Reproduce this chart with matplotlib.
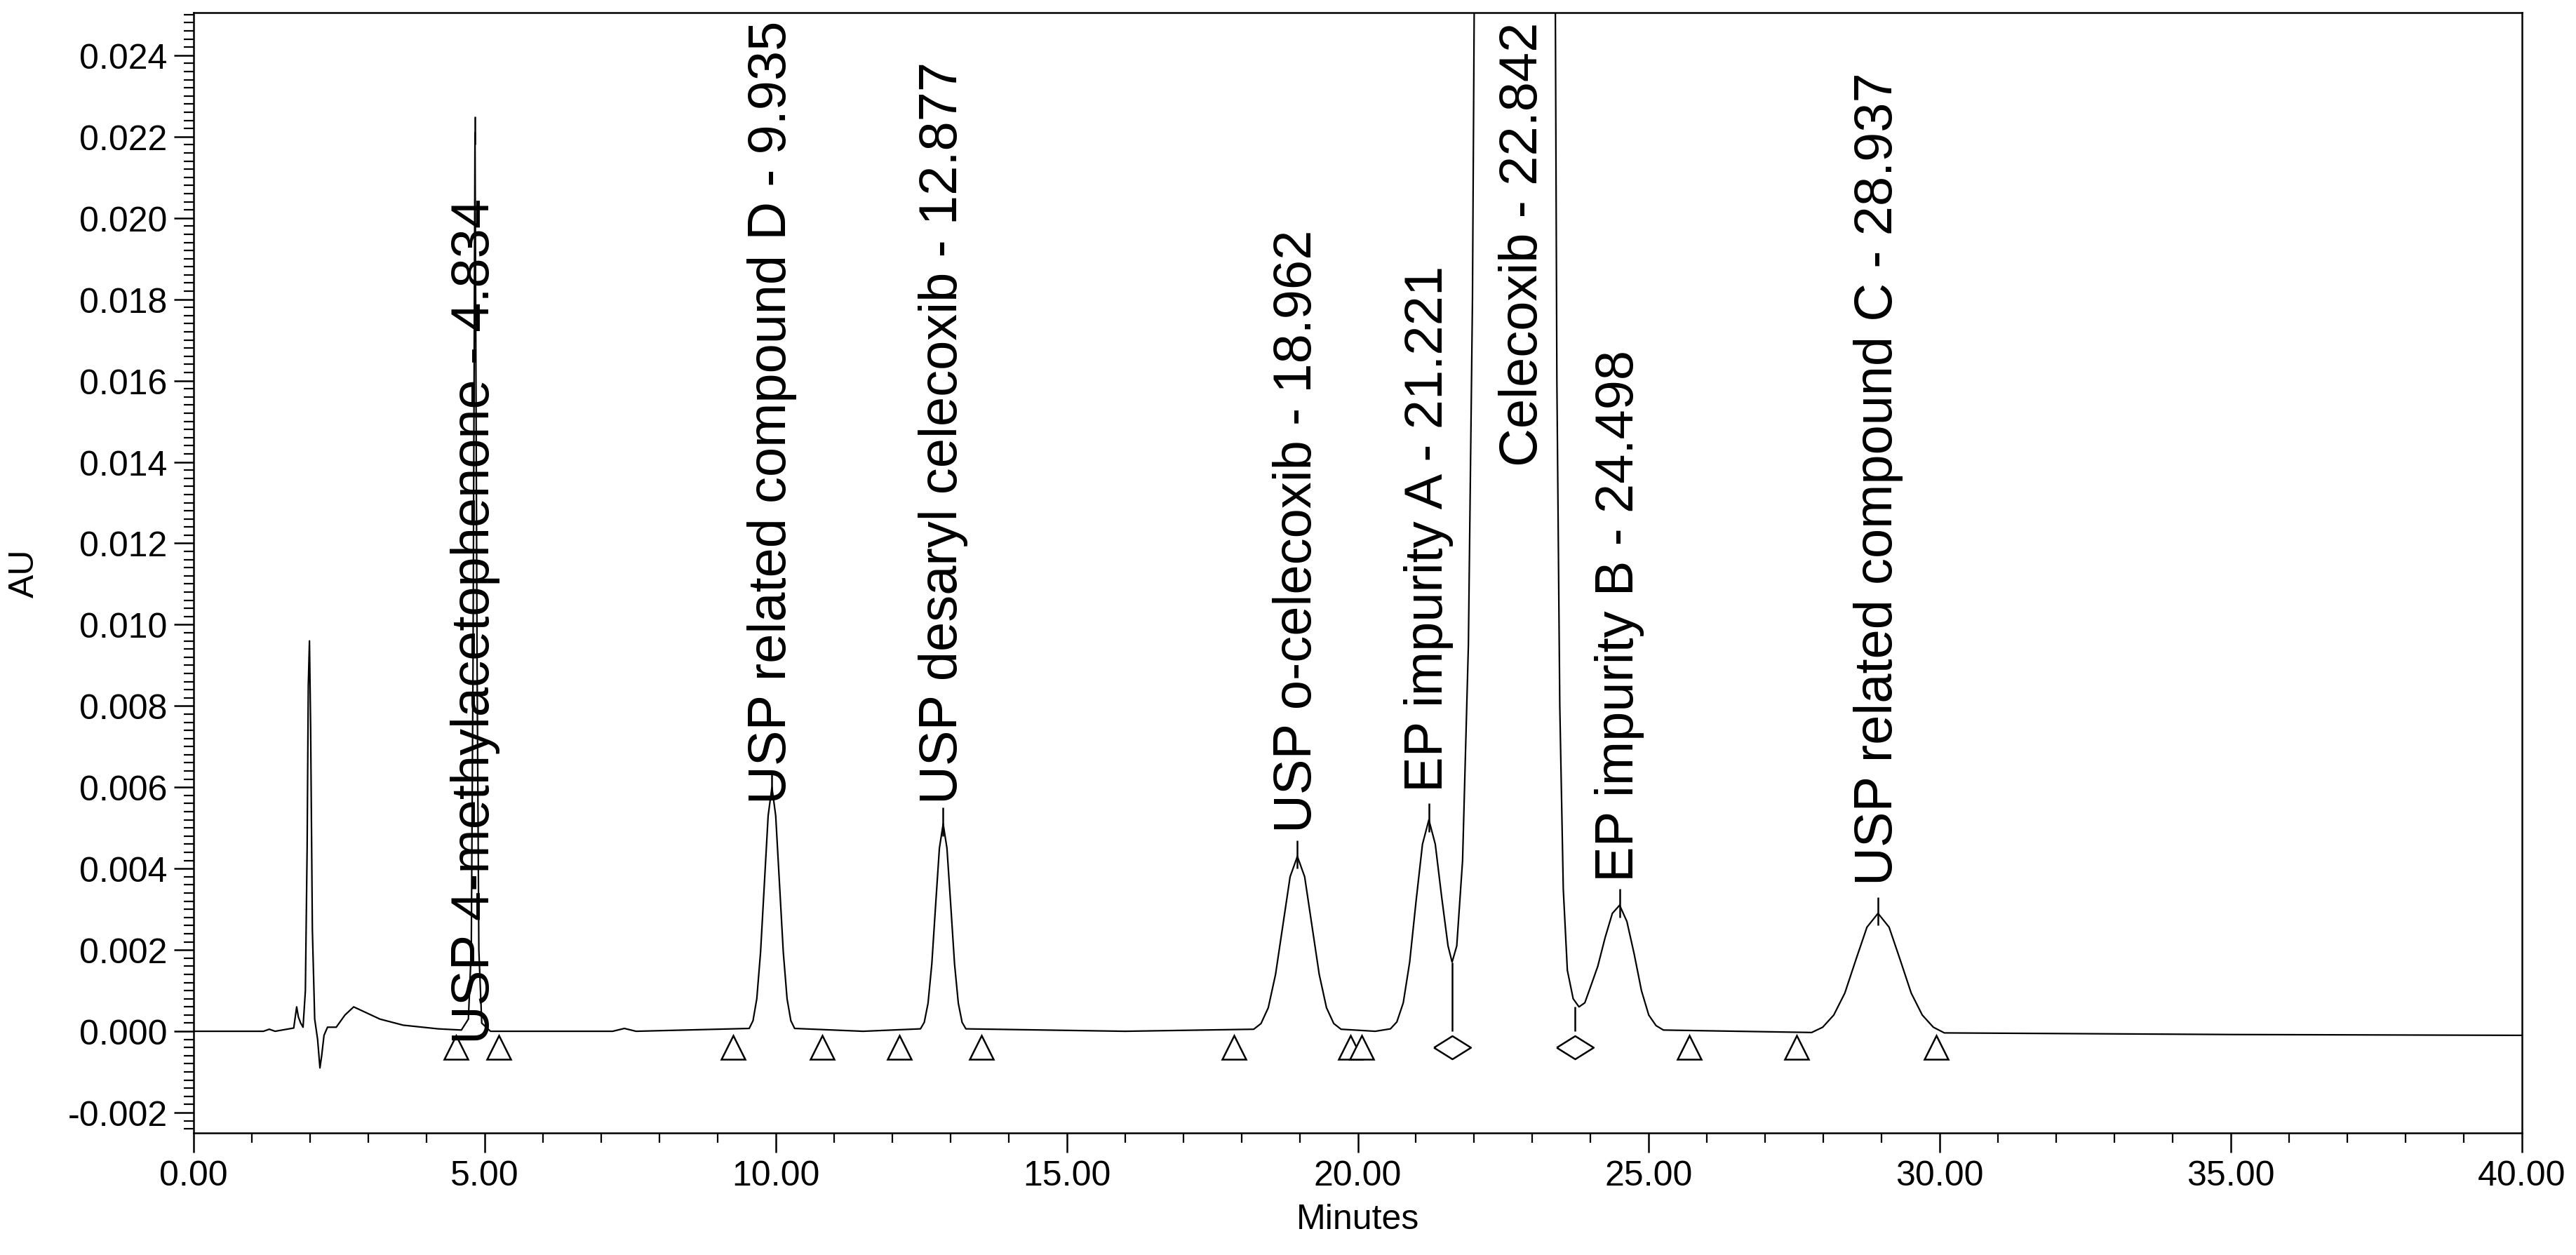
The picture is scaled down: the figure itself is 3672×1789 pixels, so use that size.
import matplotlib
matplotlib.use("Agg")
import matplotlib.pyplot as plt
from matplotlib.ticker import MultipleLocator, FormatStrFormatter

# ---- data: chromatogram trace ----
trace_t = [0.0, 1.2, 1.3, 1.4, 1.72, 1.77, 1.8, 1.84, 1.88, 1.92, 1.95, 1.97, 1.99, 2.01, 2.04, 2.08,
           2.13, 2.17, 2.2, 2.24, 2.3, 2.45, 2.6, 2.75, 2.9, 3.2, 3.6, 4.2, 4.6, 4.72, 4.77, 4.80, 4.834,
           4.87, 4.90, 4.95, 5.1, 7.2, 7.4, 7.6,
           9.545, 9.61, 9.675, 9.74, 9.805, 9.87, 9.935, 10.0, 10.065, 10.13, 10.195, 10.26, 10.325, 11.5,
           12.487, 12.552, 12.617, 12.682, 12.747, 12.812, 12.877, 12.942, 13.007, 13.072, 13.137, 13.202, 13.267, 16.0,
           18.212, 18.337, 18.462, 18.587, 18.712, 18.837, 18.962, 19.087, 19.212, 19.337, 19.462, 19.587, 19.712,
           20.3, 20.561, 20.671, 20.781, 20.891, 21.001, 21.111, 21.221, 21.331, 21.441, 21.55, 21.62, 21.7, 21.8,
           21.9, 21.97, 22.02, 22.1, 22.84, 23.3, 23.38, 23.42, 23.47, 23.53, 23.6, 23.7, 23.8,
           23.9, 24.0, 24.123, 24.248, 24.373, 24.498, 24.623, 24.748, 24.873, 24.998, 25.123, 25.25,
           27.797, 27.987, 28.177, 28.367, 28.557, 28.747, 28.937, 29.127, 29.317, 29.507, 29.697, 29.887, 30.077,
           35.0, 40.0]
trace_au = [0.0, 0.0, 0.00005, 0.0, 0.00008, 0.0006, 0.00035, 0.0002, 0.0001, 0.001, 0.0045, 0.0085, 0.0096, 0.0075, 0.0025, 0.0003,
            -0.0002, -0.0009, -0.0006, -0.0001, 0.0001, 0.0001, 0.0004, 0.0006, 0.0005, 0.0003, 0.00015, 0.00006, 0.00003, 0.0003, 0.002, 0.009, 0.0221,
            0.009, 0.002, 0.0002, 0.0, 0.0, 0.00007, 0.0,
            0.00007, 0.00026, 0.0008, 0.00195, 0.00364, 0.0053, 0.0060, 0.0053, 0.00364, 0.00195, 0.0008, 0.00026, 0.00007, 0.0,
            0.00006, 0.00022, 0.00069, 0.00166, 0.0031, 0.0045, 0.0051, 0.0045, 0.0031, 0.00166, 0.00069, 0.00022, 0.00006, 0.0,
            0.00005, 0.00019, 0.00058, 0.0014, 0.0026, 0.0038, 0.0043, 0.0038, 0.0026, 0.0014, 0.00058, 0.00019, 0.00005,
            0.0, 0.00006, 0.00023, 0.0007, 0.0017, 0.0032, 0.0046, 0.0052, 0.0046, 0.0033, 0.0021, 0.0017, 0.0021, 0.0042,
            0.0095, 0.018, 0.03, 0.06, 0.30, 0.06, 0.03, 0.016, 0.008, 0.0035, 0.0015, 0.0008, 0.0006,
            0.0007, 0.0011, 0.0016, 0.0023, 0.0029, 0.0031, 0.0027, 0.0019, 0.0010, 0.0004, 0.00014, 0.00003,
            -0.00003, 0.0001, 0.0004, 0.00094, 0.00176, 0.00256, 0.0029, 0.00256, 0.00176, 0.00094, 0.0004, 0.0001, -0.00004,
            -0.00008, -0.0001]

peak_names = ["USP 4-methylacetophenone - 4.834", "USP related compound D - 9.935",
              "USP desaryl celecoxib - 12.877", "USP o-celecoxib - 18.962",
              "EP impurity A - 21.221", "Celecoxib - 22.842", "EP impurity B - 24.498",
              "USP related compound C - 28.937"]
peak_rt = [4.834, 9.935, 12.877, 18.962, 21.221, 22.842, 24.498, 28.937]
peak_top = [0.0221, 0.0060, 0.0051, 0.0043, 0.0052, 0.0250, 0.0031, 0.0029]
label_base = [-0.0003, 0.0056, 0.0056, 0.0049, 0.0059, 0.0139, 0.0037, 0.0036]

tri_t = [4.51, 5.24, 9.27, 10.80, 12.12, 13.53, 17.87, 19.87, 20.07, 25.70, 27.54, 29.94]
dia_t = [21.62, 23.73]
dia_au = [0.0017, 0.0006]

plt.rcParams['font.family'] = ['Liberation Sans', 'DejaVu Sans']
fig = plt.figure(figsize=(18.365, 8.95), dpi=200)
ax = fig.add_axes([276/3673, 1 - 1616/1790, (3595-276)/3673, (1616-19)/1790])
ax.plot(trace_t, trace_au, color='black', lw=0.8)
ax.set_xlim(0, 40)
ax.set_ylim(-0.0025, 0.02505)

ax.plot(tri_t, [-0.0004]*len(tri_t), linestyle='none', marker='^', ms=12,
        mfc='white', mec='black', mew=0.9)
wide_diamond = [(-1.6, 0), (0, 1), (1.6, 0), (0, -1), (-1.6, 0)]
ax.plot(dia_t, [-0.0004]*len(dia_t), linestyle='none', marker=wide_diamond, ms=19,
        mfc='white', mec='black', mew=0.9)
for t, a in zip(dia_t, dia_au):
    ax.vlines(t, 0.0, a, color='black', lw=0.9)

for n, t, h, b in zip(peak_names, peak_rt, peak_top, label_base):
    if h < 0.024:
        ax.vlines(t, h - 0.0003, h + 0.0004, color='black', lw=0.9)
    ax.text(t, b, n, rotation=90, ha='center', va='bottom', fontsize=27.3,
            clip_on=False)

ax.xaxis.set_major_locator(MultipleLocator(5))
ax.xaxis.set_minor_locator(MultipleLocator(1))
ax.xaxis.set_major_formatter(FormatStrFormatter('%.2f'))
ax.yaxis.set_major_locator(MultipleLocator(0.002))
ax.yaxis.set_minor_locator(MultipleLocator(0.0002))
ax.yaxis.set_major_formatter(FormatStrFormatter('%.3f'))
ax.tick_params(axis='both', which='major', labelsize=18, direction='out', length=10, width=0.9)
ax.tick_params(axis='both', which='minor', direction='out', length=5, width=0.8)
ax.set_xlabel("Minutes", fontsize=18, labelpad=6)
ax.set_ylabel("AU", fontsize=18, labelpad=14)
for s in ax.spines.values():
    s.set_linewidth(0.9)

fig.savefig("out.png", dpi=200)
